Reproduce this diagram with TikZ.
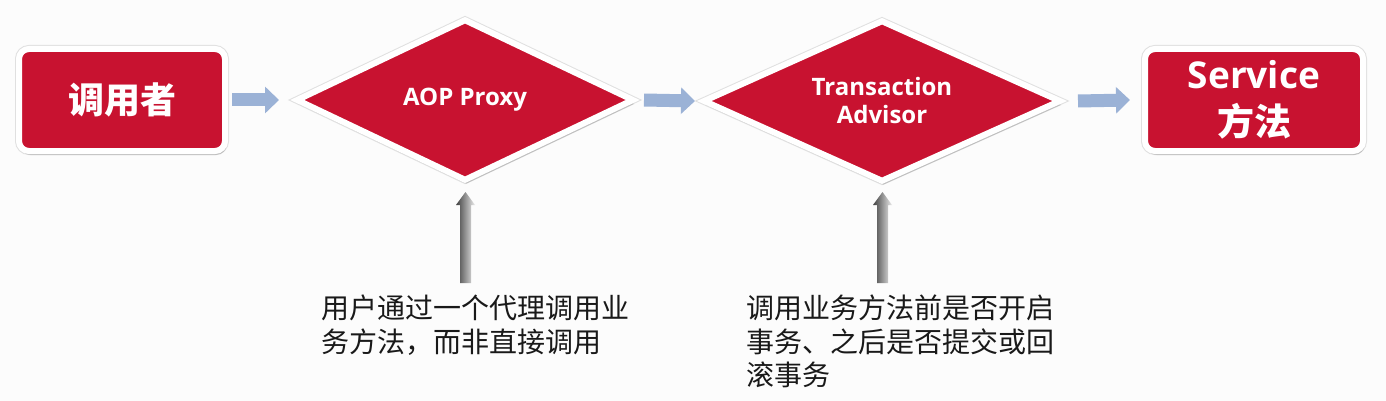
\documentclass[tikz,border=0pt]{standalone}
\usepackage{fontspec}
\setmainfont{Open Sans}
\newfontfamily\cjk{Noto Sans CJK SC}
\usetikzlibrary{shapes.geometric,arrows.meta,shadows,calc}
\definecolor{boxred}{RGB}{200,18,48}
\definecolor{flowblue}{RGB}{155,178,214}
\definecolor{bgwhite}{RGB}{252,252,252}
\tikzset{
  redbox/.style={rectangle, rounded corners=10pt, fill=boxred, draw=white, line width=6pt,
    text=white, align=center, inner sep=0pt,
    preaction={draw=black!12, line width=8pt},
    drop shadow={shadow xshift=1.5pt, shadow yshift=-4pt, fill=black, opacity=.15}},
  reddiamond/.style={diamond, aspect=2.2, fill=boxred, draw=white, line width=6pt, text=white,
    align=center, inner sep=0pt, font=\bfseries\fontsize{24}{28}\selectfont,
    preaction={draw=black!12, line width=8pt},
    drop shadow={shadow xshift=1.5pt, shadow yshift=-4pt, fill=black, opacity=.15}},
  flow/.style={draw=flowblue, line width=13pt, -{Triangle[length=14pt,width=26pt]}},
  note/.style={anchor=north west, inner sep=0pt, align=left, text=black!90,
    font=\cjk\fontsize{28}{33.5}\selectfont}
}
\begin{document}
\begin{tikzpicture}[x=1pt, y=-1pt]
\useasboundingbox (0,0) rectangle (1386,401);
\fill[bgwhite] (0,0) rectangle (1386,401);

% main chain
\node[redbox, minimum width=206pt, minimum height=102pt, font=\cjk\bfseries\fontsize{36}{40}\selectfont] (caller) at (122,100) {调用者};
\node[reddiamond, minimum width=338pt, minimum height=162pt] (proxy) at (465,100) {AOP Proxy};
\node[reddiamond, minimum width=358pt, minimum height=162pt] (advisor) at (882,101) {Transaction\\Advisor};
\node[redbox, minimum width=218pt, minimum height=102pt, font=\bfseries\fontsize{37}{47}\selectfont] (service) at (1254,100) {Service\\{\cjk\bfseries 方法}};

\draw[flow] ([xshift=4pt]caller.east) -- ([xshift=-14pt]proxy.west);
\draw[flow] ([xshift=7pt]proxy.east) -- ([xshift=-5pt]advisor.west);
\draw[flow] ([xshift=14pt]advisor.east) -- ([xshift=-12pt]service.west);

% notes
\node[note] (noteproxy) at (321,295) {用户通过一个代理调用业\\务方法，而非直接调用};
\node[note] (noteadvisor) at (746,295) {调用业务方法前是否开启\\事务、之后是否提交或回\\滚事务};

% gray pointers
\foreach \target/\note in {proxy/noteproxy, advisor/noteadvisor}
  \shade[left color=black!75, right color=black!8]
    ($(\target.south |- \note.north)+(-5,-12)$) -- ++(0,-78) -- ++(-4,0)
    -- ++(9.5,-13) -- ++(9.5,13) -- ++(-4,0) -- ++(0,78) -- cycle;

\end{tikzpicture}
\end{document}
